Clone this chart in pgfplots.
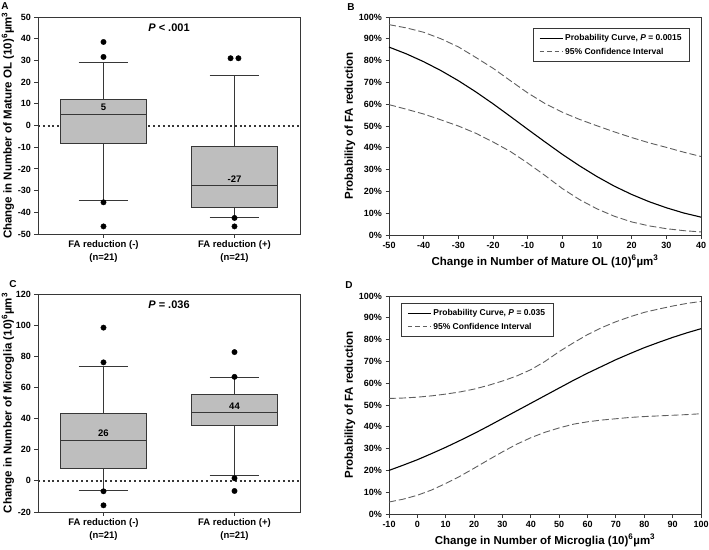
\documentclass[border=0pt]{standalone}
\usepackage{fontspec}
\setmainfont{Liberation Sans}
\usepackage{pgfplots}
\pgfplotsset{compat=1.18}
\usepgfplotslibrary{statistics}

\definecolor{boxgray}{RGB}{190,190,190}
\definecolor{linegray}{RGB}{55,55,55}
\definecolor{dashgray}{RGB}{95,95,95}

\pgfplotsset{
  panel/.style={
    scale only axis,
    axis line style={draw=linegray, line width=1pt},
    tick style={draw=linegray, line width=0.9pt},
    major tick length=3.5pt,
    tick align=outside,
    xtick pos=left, ytick pos=left,
    ticklabel style={font=\bfseries\fontsize{9}{10}\selectfont},
    /pgf/number format/assume math mode=true,
    label style={font=\bfseries\fontsize{11.5}{13}\selectfont},
    clip=false,
  },
  boxpanel/.style={
    panel, width=262pt, xmin=0.5, xmax=2.5, xtick={1,2},
    xticklabels={{FA reduction (-)\\(n=21)},{FA reduction (+)\\(n=21)}},
    xticklabel style={align=center, font=\bfseries\fontsize{9.5}{13}\selectfont},
    ylabel style={at={(axis description cs:-0.115,0.5)}, anchor=center},
    boxplot/draw direction=y,
    boxplot/every box/.style={fill=boxgray},
  },
  curvepanel/.style={
    panel, width=312pt, height=218pt, ymin=0, ymax=100,
    ytick={0,10,...,100},
    yticklabels={0\%,10\%,20\%,30\%,40\%,50\%,60\%,70\%,80\%,90\%,100\%},
    ylabel={Probability of FA reduction},
    ylabel style={at={(axis description cs:-0.125,0.5)}, anchor=center},
    legend style={draw=linegray, line width=0.8pt, font=\bfseries\fontsize{8.5}{10}\selectfont,
      cells={anchor=west}, inner xsep=6pt, inner ysep=4pt, row sep=2pt},
    legend image code/.code={\draw[#1] (0pt,0pt) -- (23pt,0pt);},
  },
  prob/.style={black, line width=1.1pt},
  ci/.style={dashgray, line width=0.9pt, dash pattern=on 7pt off 3pt,
    legend image post style={dash pattern=on 4.5pt off 3pt}},
  zeroline/.style={linegray, line width=2pt, dash pattern=on 2pt off 2.8pt},
}

\begin{document}
\begin{tikzpicture}
\path[use as bounding box] (0pt,0pt) rectangle (709pt,-549pt);

% A
\begin{axis}[boxpanel, at={(38pt,-234pt)}, anchor=south west, height=217pt,
  ymin=-50, ymax=50, ytick={-50,-40,...,50},
  ylabel={Change in Number of Mature OL (10)\textsuperscript{6}µm\textsuperscript{3}}]
\addplot[zeroline] coordinates {(0.5,0) (2.5,0)};
\addplot[boxplot prepared={draw position=1, median=5.3, upper quartile=12.2, lower quartile=-8.1,
  upper whisker=29.1, lower whisker=-34.6, box extend=0.66, whisker extend=0.38},
  draw=linegray, line width=1pt] coordinates {};
\addplot[boxplot prepared={draw position=2, median=-27.7, upper quartile=-9.6, lower quartile=-38,
  upper whisker=23, lower whisker=-42.2, box extend=0.66, whisker extend=0.38},
  draw=linegray, line width=1pt] coordinates {};
\addplot[only marks, mark=*, mark size=2.7pt, black] coordinates {
  (1,38.5) (1,31.6) (1,-35.4) (1,-46.5)
  (1.97,31) (2.03,31) (2,-42.6) (2,-46.5)};
\node[font=\bfseries\fontsize{9.5}{11}\selectfont, above] at (axis cs:1,5.3) {5};
\node[font=\bfseries\fontsize{9.5}{11}\selectfont, above] at (axis cs:2,-27.7) {-27};
\node[font=\bfseries\fontsize{11}{13}\selectfont] at (axis cs:1.5,45) {\textit{P} < .001};
\end{axis}

% B
\begin{axis}[curvepanel, at={(389pt,-235pt)}, anchor=south west,
  xmin=-50, xmax=40, xtick={-50,-40,...,40},
  xlabel={Change in Number of Mature OL (10)\textsuperscript{6}µm\textsuperscript{3}},
  legend style={at={(0.965,0.95)}, anchor=north east}]
\addplot[prob] coordinates {
  (-50,86.2) (-45,83.1) (-40,79.5) (-35,75.4) (-30,70.8) (-25,65.7) (-20,60.2)
  (-15,54.4) (-10,48.5) (-5,42.7) (0,37.0) (5,31.7) (10,26.8) (15,22.4)
  (20,18.6) (25,15.3) (30,12.5) (35,10.1) (40,8.2)};
\addplot[ci] coordinates {
  (-50,96.5) (-45,95) (-40,93) (-35,90) (-30,86.3) (-25,81.5) (-20,76.5)
  (-15,70.8) (-10,65.2) (-5,60.3) (0,56.3) (5,53) (10,50.1) (15,47.3)
  (20,44.7) (25,42.3) (30,40.2) (35,38) (40,36)};
\addplot[ci, forget plot] coordinates {
  (-50,59.8) (-45,57.7) (-40,55.5) (-35,52.8) (-30,50) (-25,46.7) (-20,42.7)
  (-15,38.3) (-10,33) (-5,27.3) (0,21.3) (5,16.2) (10,12) (15,8.6)
  (20,6) (25,4.2) (30,2.9) (35,2) (40,1.4)};
\legend{{Probability Curve, \textit{P} = 0.0015},{95\% Confidence Interval}}
\end{axis}

% C
\begin{axis}[boxpanel, at={(38pt,-512pt)}, anchor=south west, height=218pt,
  ymin=-20, ymax=120, ytick={-20,0,...,120},
  ylabel={Change in Number of Microglia (10)\textsuperscript{6}µm\textsuperscript{3}}]
\addplot[zeroline] coordinates {(0.5,0) (2.5,0)};
\addplot[boxplot prepared={draw position=1, median=26.1, upper quartile=43.3, lower quartile=7.7,
  upper whisker=73.7, lower whisker=-6.1, box extend=0.66, whisker extend=0.38},
  draw=linegray, line width=1pt] coordinates {};
\addplot[boxplot prepared={draw position=2, median=43.7, upper quartile=55.7, lower quartile=35.5,
  upper whisker=66.2, lower whisker=3.4, box extend=0.66, whisker extend=0.38},
  draw=linegray, line width=1pt] coordinates {};
\addplot[only marks, mark=*, mark size=2.7pt, black] coordinates {
  (1,98.4) (1,76.1) (1,-6.7) (1,-15.7)
  (2,82.7) (2,66.8) (2,1.7) (2,-6.5)};
\node[font=\bfseries\fontsize{9.5}{11}\selectfont, above] at (axis cs:1,26.1) {26};
\node[font=\bfseries\fontsize{9.5}{11}\selectfont, above] at (axis cs:2,43.7) {44};
\node[font=\bfseries\fontsize{11}{13}\selectfont] at (axis cs:1.5,112.9) {\textit{P} = .036};
\end{axis}

% D
\begin{axis}[curvepanel, at={(389pt,-514pt)}, anchor=south west,
  xmin=-10, xmax=100, xtick={-10,0,...,100},
  xlabel={Change in Number of Microglia (10)\textsuperscript{6}µm\textsuperscript{3}},
  legend style={at={(0.038,0.968)}, anchor=north west}]
\addplot[prob] coordinates {
  (-10,20.0) (-5,22.4) (0,24.9) (5,27.7) (10,30.6) (15,33.7) (20,36.9)
  (25,40.3) (30,43.8) (35,47.3) (40,50.8) (45,54.3) (50,57.8) (55,61.3)
  (60,64.6) (65,67.7) (70,70.8) (75,73.6) (80,76.3) (85,78.7) (90,81.0)
  (95,83.1) (100,85.0)};
\addplot[ci] coordinates {
  (-10,53) (-5,53.2) (0,53.6) (5,54.2) (10,55) (15,56) (20,57.3)
  (25,59) (30,61) (35,63.3) (40,66.2) (45,70) (50,74.5) (55,78.5)
  (60,82.3) (65,85.5) (70,88.2) (75,90.5) (80,92.5) (85,94) (90,95.4)
  (95,96.6) (100,97.5)};
\addplot[ci, forget plot] coordinates {
  (-10,5.5) (-5,6.8) (0,8.6) (5,11) (10,14) (15,17.3) (20,21)
  (25,24.8) (30,28.5) (35,32) (40,35) (45,37.5) (50,39.5) (55,41.2)
  (60,42.3) (65,43.1) (70,43.7) (75,44.3) (80,44.7) (85,45) (90,45.3)
  (95,45.6) (100,46)};
\legend{{Probability Curve, \textit{P} = 0.035},{95\% Confidence Interval}}
\end{axis}

\node[font=\bfseries\fontsize{10}{12}\selectfont] at (5pt,-6pt) {A};
\node[font=\bfseries\fontsize{10}{12}\selectfont] at (351pt,-7pt) {B};
\node[font=\bfseries\fontsize{10}{12}\selectfont] at (13pt,-284pt) {C};
\node[font=\bfseries\fontsize{10}{12}\selectfont] at (349pt,-285pt) {D};
\end{tikzpicture}
\end{document}
